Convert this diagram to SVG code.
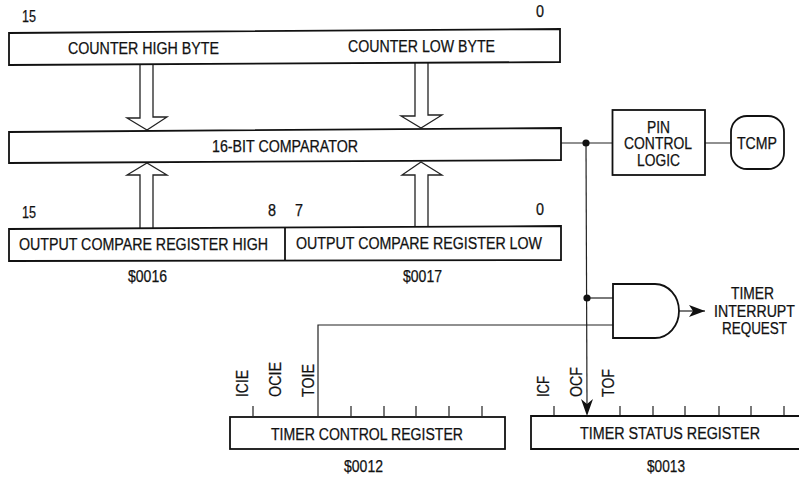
<svg xmlns="http://www.w3.org/2000/svg" width="799" height="478" viewBox="0 0 799 478">
<defs>
<marker id="ah" markerUnits="userSpaceOnUse" markerWidth="16" markerHeight="12" refX="16" refY="6" orient="auto"><path d="M0 0L16 6L0 12L4 6Z" fill="#111"/></marker>
</defs>
<style>
.b{fill:#fff;stroke:#111;stroke-width:1.8}
.l{fill:none;stroke:#222;stroke-width:1.2}
.t{font-family:"Liberation Sans",Arial,sans-serif;font-size:16px;fill:#111;text-anchor:start;stroke:#111;stroke-width:.25}
.a{fill:#fff;stroke:#222;stroke-width:1.3}
</style>
<rect width="799" height="478" fill="#fff"/>
<g id="connectors">
<path class="a" d="M140 65V118H127L147 130L167 117H153V65"/>
<path class="a" d="M415 62V116H401L421 128L442 115H428V62"/>
<path class="a" d="M140 228V175H127L147 163L167 175H153V228"/>
<path class="a" d="M415 226V175H402L421 162L442 175H428V226"/>
<path class="l" d="M561 143H612M705 143H731"/>
<path class="l" d="M586 143L587 404"/>
<path class="l" d="M587 298H613"/>
<path class="l" d="M318 416V325H613"/>
<path class="l" d="M679 311H705" marker-end="url(#ah)"/>
<path d="M581 399L587 416L593 399L587 404Z" fill="#111"/>
<circle cx="586" cy="143" r="3.6" fill="#111"/>
<circle cx="587" cy="298" r="3.6" fill="#111"/>
<path class="l" d="M253 406V416M351 406V416M384 406V416M416 406V416M449 406V416M482 406V416"/>
<path class="l" d="M554 406V416M620 406V416M653 406V416M685 406V416M719 406V416M751 406V416M784 406V416"/>
</g>
<g id="counter">
<path class="b" d="M9 33L560 29V62L9 65Z"/>
<text class="t" x="68" y="54" textLength="151" lengthAdjust="spacingAndGlyphs">COUNTER HIGH BYTE</text>
<text class="t" x="348" y="52" textLength="147" lengthAdjust="spacingAndGlyphs">COUNTER LOW BYTE</text>
<text class="t" x="22" y="22" textLength="14" lengthAdjust="spacingAndGlyphs">15</text>
<text class="t" x="536" y="17" textLength="8" lengthAdjust="spacingAndGlyphs">0</text>
</g>
<g id="comparator">
<path class="b" d="M9 132L561 128V160L9 163Z"/>
<text class="t" x="212" y="152" textLength="146" lengthAdjust="spacingAndGlyphs">16-BIT COMPARATOR</text>
</g>
<g id="ocr">
<path class="b" d="M9 229L561 226V260L9 261Z"/>
<path class="b" d="M285 228V260"/>
<text class="t" x="19" y="250" textLength="249" lengthAdjust="spacingAndGlyphs">OUTPUT COMPARE REGISTER HIGH</text>
<text class="t" x="296" y="249" textLength="246" lengthAdjust="spacingAndGlyphs">OUTPUT COMPARE REGISTER LOW</text>
<text class="t" x="22" y="218" textLength="14" lengthAdjust="spacingAndGlyphs">15</text>
<text class="t" x="268" y="216" textLength="8" lengthAdjust="spacingAndGlyphs">8</text>
<text class="t" x="295" y="216" textLength="8" lengthAdjust="spacingAndGlyphs">7</text>
<text class="t" x="536" y="215" textLength="8" lengthAdjust="spacingAndGlyphs">0</text>
<text class="t" x="128" y="282" textLength="39" lengthAdjust="spacingAndGlyphs">$0016</text>
<text class="t" x="403" y="282" textLength="39" lengthAdjust="spacingAndGlyphs">$0017</text>
</g>
<g id="pin-control">
<rect class="b" x="612.500" y="110" width="92.500" height="65"/>
<text class="t" x="647" y="133" textLength="23" lengthAdjust="spacingAndGlyphs">PIN</text>
<text class="t" x="624" y="149" textLength="68" lengthAdjust="spacingAndGlyphs">CONTROL</text>
<text class="t" x="637" y="166" textLength="43" lengthAdjust="spacingAndGlyphs">LOGIC</text>
</g>
<g id="tcmp">
<rect class="b" x="731" y="116" width="53" height="53" rx="16"/>
<text class="t" x="737" y="149" textLength="40" lengthAdjust="spacingAndGlyphs">TCMP</text>
</g>
<g id="and-gate">
<path class="b" d="M613 284H655A24 27 0 0 1 655 338H613Z"/>
</g>
<g id="interrupt-label">
<text class="t" x="731" y="299" textLength="43" lengthAdjust="spacingAndGlyphs">TIMER</text>
<text class="t" transform="translate(714 317) scale(.885 1)">INTERRUPT</text>
<text class="t" x="722" y="334" textLength="65" lengthAdjust="spacingAndGlyphs">REQUEST</text>
</g>
<g id="timer-control">
<rect class="b" x="230" y="417" width="275" height="32"/>
<text class="t" x="271" y="440" textLength="192" lengthAdjust="spacingAndGlyphs">TIMER CONTROL REGISTER</text>
<text class="t" x="344" y="472" textLength="39" lengthAdjust="spacingAndGlyphs">$0012</text>
<text class="t" transform="translate(248 397) rotate(-90)" textLength="27" lengthAdjust="spacingAndGlyphs">ICIE</text>
<text class="t" transform="translate(281 397) rotate(-90)" textLength="35" lengthAdjust="spacingAndGlyphs">OCIE</text>
<text class="t" transform="translate(314 397) rotate(-90)" textLength="33" lengthAdjust="spacingAndGlyphs">TOIE</text>
</g>
<g id="timer-status">
<path class="b" d="M799 416H531V449H799"/>
<text class="t" x="580" y="439" textLength="180" lengthAdjust="spacingAndGlyphs">TIMER STATUS REGISTER</text>
<text class="t" x="647" y="472" textLength="38" lengthAdjust="spacingAndGlyphs">$0013</text>
<text class="t" transform="translate(549 397) rotate(-90)" textLength="21" lengthAdjust="spacingAndGlyphs">ICF</text>
<text class="t" transform="translate(582 397) rotate(-90)" textLength="30" lengthAdjust="spacingAndGlyphs">OCF</text>
<text class="t" transform="translate(614 397) rotate(-90)" textLength="28" lengthAdjust="spacingAndGlyphs">TOF</text>
</g>
</svg>
